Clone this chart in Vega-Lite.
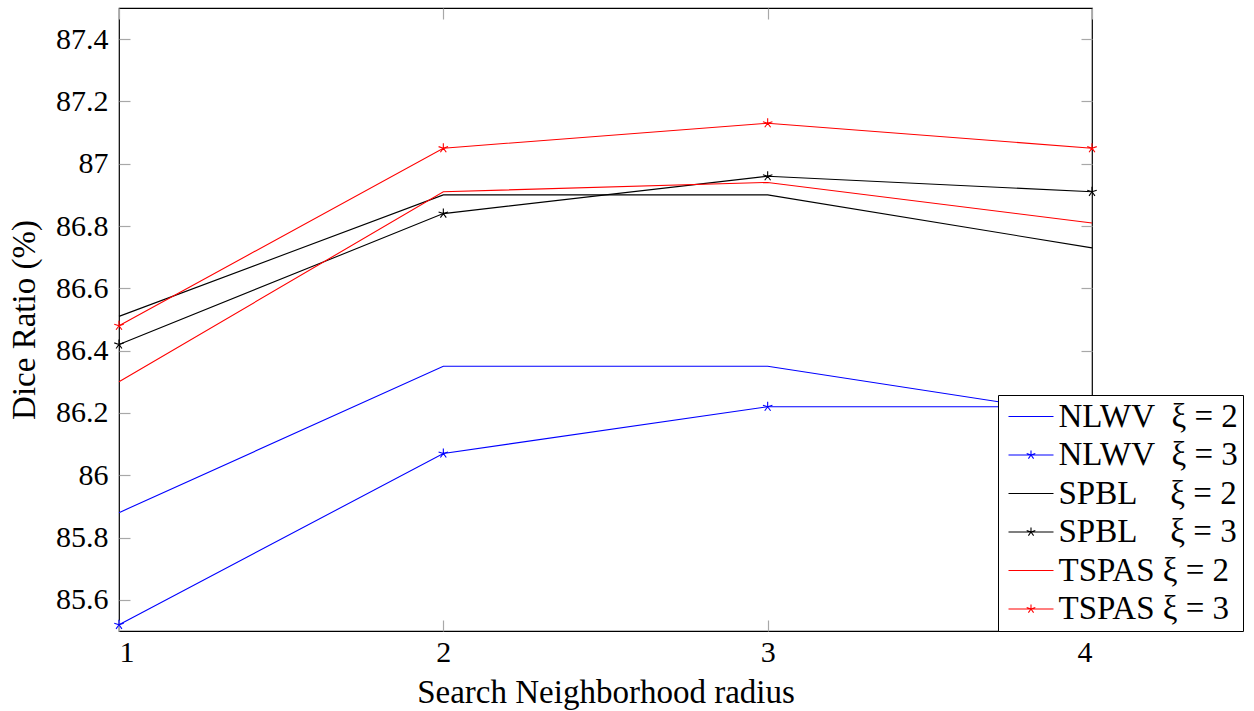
{
  "$schema": "https://vega.github.io/schema/vega-lite/v6.json",
  "width": 973,
  "height": 623,
  "autosize": {"type": "none"},
  "padding": {"left": 119, "top": 8, "right": 162, "bottom": 80},
  "background": "white",
  "config": {
    "view": {"stroke": "black", "strokeWidth": 1.2},
    "font": "Liberation Serif"
  },
  "data": {
    "values": [
      {"r": 1, "dice": 85.88, "xi": 2, "series": "NLWV\u00a0\u00a0ξ = 2"},
      {"r": 2, "dice": 86.35, "xi": 2, "series": "NLWV\u00a0\u00a0ξ = 2"},
      {"r": 3, "dice": 86.35, "xi": 2, "series": "NLWV\u00a0\u00a0ξ = 2"},
      {"r": 4, "dice": 86.19, "xi": 2, "series": "NLWV\u00a0\u00a0ξ = 2"},
      {"r": 1, "dice": 85.52, "xi": 3, "series": "NLWV\u00a0\u00a0ξ = 3"},
      {"r": 2, "dice": 86.07, "xi": 3, "series": "NLWV\u00a0\u00a0ξ = 3"},
      {"r": 3, "dice": 86.22, "xi": 3, "series": "NLWV\u00a0\u00a0ξ = 3"},
      {"r": 4, "dice": 86.22, "xi": 3, "series": "NLWV\u00a0\u00a0ξ = 3"},
      {"r": 1, "dice": 86.51, "xi": 2, "series": "SPBL\u00a0\u00a0\u00a0\u00a0ξ = 2"},
      {"r": 2, "dice": 86.90, "xi": 2, "series": "SPBL\u00a0\u00a0\u00a0\u00a0ξ = 2"},
      {"r": 3, "dice": 86.90, "xi": 2, "series": "SPBL\u00a0\u00a0\u00a0\u00a0ξ = 2"},
      {"r": 4, "dice": 86.73, "xi": 2, "series": "SPBL\u00a0\u00a0\u00a0\u00a0ξ = 2"},
      {"r": 1, "dice": 86.42, "xi": 3, "series": "SPBL\u00a0\u00a0\u00a0\u00a0ξ = 3"},
      {"r": 2, "dice": 86.84, "xi": 3, "series": "SPBL\u00a0\u00a0\u00a0\u00a0ξ = 3"},
      {"r": 3, "dice": 86.96, "xi": 3, "series": "SPBL\u00a0\u00a0\u00a0\u00a0ξ = 3"},
      {"r": 4, "dice": 86.91, "xi": 3, "series": "SPBL\u00a0\u00a0\u00a0\u00a0ξ = 3"},
      {"r": 1, "dice": 86.30, "xi": 2, "series": "TSPAS\u00a0ξ = 2"},
      {"r": 2, "dice": 86.91, "xi": 2, "series": "TSPAS\u00a0ξ = 2"},
      {"r": 3, "dice": 86.94, "xi": 2, "series": "TSPAS\u00a0ξ = 2"},
      {"r": 4, "dice": 86.81, "xi": 2, "series": "TSPAS\u00a0ξ = 2"},
      {"r": 1, "dice": 86.48, "xi": 3, "series": "TSPAS\u00a0ξ = 3"},
      {"r": 2, "dice": 87.05, "xi": 3, "series": "TSPAS\u00a0ξ = 3"},
      {"r": 3, "dice": 87.13, "xi": 3, "series": "TSPAS\u00a0ξ = 3"},
      {"r": 4, "dice": 87.05, "xi": 3, "series": "TSPAS\u00a0ξ = 3"}
    ]
  },
  "layer": [
    {
      "transform": [{"filter": "datum.xi == 0"}],
      "mark": {"type": "point", "filled": false, "opacity": 1, "strokeWidth": 1.1},
      "encoding": {
        "color": {
          "field": "series", "type": "nominal",
          "scale": {
            "domain": ["NLWV\u00a0\u00a0ξ = 2", "NLWV\u00a0\u00a0ξ = 3", "SPBL\u00a0\u00a0\u00a0\u00a0ξ = 2", "SPBL\u00a0\u00a0\u00a0\u00a0ξ = 3", "TSPAS\u00a0ξ = 2", "TSPAS\u00a0ξ = 3"],
            "range": ["#0000ff", "#0000ff", "#000000", "#000000", "#ff0000", "#ff0000"]
          },
          "legend": {
            "orient": "none", "legendX": 879, "legendY": 387,
            "title": null,
            "fillColor": "white", "strokeColor": "black",
            "padding": 5,
            "labelFont": "Liberation Serif", "labelFontSize": 33, "labelColor": "black",
            "labelLimit": 400,
            "symbolSize": 400, "symbolStrokeWidth": 1.1,
            "symbolOffset": 11.5, "labelOffset": 11,
            "rowPadding": 4.5
          }
        },
        "shape": {
          "field": "series", "type": "nominal",
          "scale": {
            "domain": ["NLWV\u00a0\u00a0ξ = 2", "NLWV\u00a0\u00a0ξ = 3", "SPBL\u00a0\u00a0\u00a0\u00a0ξ = 2", "SPBL\u00a0\u00a0\u00a0\u00a0ξ = 3", "TSPAS\u00a0ξ = 2", "TSPAS\u00a0ξ = 3"],
            "range": [
              "M-2.25,0H2.25",
              "M-2.25,0H2.25M0,0L0,-0.45M0,0L0.43,-0.14M0,0L0.26,0.36M0,0L-0.26,0.36M0,0L-0.43,-0.14",
              "M-2.25,0H2.25",
              "M-2.25,0H2.25M0,0L0,-0.45M0,0L0.43,-0.14M0,0L0.26,0.36M0,0L-0.26,0.36M0,0L-0.43,-0.14",
              "M-2.25,0H2.25",
              "M-2.25,0H2.25M0,0L0,-0.45M0,0L0.43,-0.14M0,0L0.26,0.36M0,0L-0.26,0.36M0,0L-0.43,-0.14"
            ]
          }
        }
      }
    },
    {
      "mark": {"type": "line", "strokeWidth": 1.1},
      "encoding": {
        "x": {
          "field": "r", "type": "quantitative",
          "scale": {"domain": [1, 4], "nice": false, "zero": false},
          "axis": {
            "orient": "bottom", "values": [1, 2, 3, 4], "format": "d",
            "domain": false, "grid": false,
            "tickSize": -11, "tickColor": "#a8a8a8", "tickWidth": 1.2,
            "labelFont": "Liberation Serif", "labelFontSize": 30, "labelColor": "black",
            "labelPadding": 17,
            "title": "Search Neighborhood radius",
            "titleFont": "Liberation Serif", "titleFontSize": 33, "titleFontWeight": "normal",
            "titleColor": "black", "titlePadding": 9
          }
        },
        "y": {
          "field": "dice", "type": "quantitative",
          "scale": {"domain": [85.5, 87.5], "nice": false, "zero": false},
          "axis": {
            "orient": "left",
            "values": [85.6, 85.8, 86, 86.2, 86.4, 86.6, 86.8, 87, 87.2, 87.4],
            "format": ".1~f",
            "domain": false, "grid": false,
            "tickSize": -11, "tickColor": "#a8a8a8", "tickWidth": 1.2,
            "labelFont": "Liberation Serif", "labelFontSize": 30, "labelColor": "black",
            "labelPadding": 22,
            "title": "Dice Ratio (%)",
            "titleFont": "Liberation Serif", "titleFontSize": 33, "titleFontWeight": "normal",
            "titleColor": "black", "titlePadding": 14
          }
        },
        "color": {"field": "series", "type": "nominal"}
      }
    },
    {
      "transform": [{"filter": "datum.xi == 3"}],
      "mark": {
        "type": "point", "filled": false, "opacity": 1, "strokeWidth": 1.1, "size": 100,
        "shape": "M0,0L0,-1M0,0L0.951,-0.309M0,0L0.588,0.809M0,0L-0.588,0.809M0,0L-0.951,-0.309"
      },
      "encoding": {
        "x": {
          "field": "r", "type": "quantitative",
          "axis": {
            "orient": "top", "values": [1, 2, 3, 4], "labels": false, "domain": false, "grid": false,
            "tickSize": -11, "tickColor": "#a8a8a8", "tickWidth": 1.2, "title": null
          }
        },
        "y": {
          "field": "dice", "type": "quantitative",
          "axis": {
            "orient": "right",
            "values": [85.6, 85.8, 86, 86.2, 86.4, 86.6, 86.8, 87, 87.2, 87.4],
            "labels": false, "domain": false, "grid": false,
            "tickSize": -11, "tickColor": "#a8a8a8", "tickWidth": 1.2, "title": null
          }
        },
        "color": {"field": "series", "type": "nominal"}
      }
    }
  ],
  "resolve": {"axis": {"x": "independent", "y": "independent"}}
}
